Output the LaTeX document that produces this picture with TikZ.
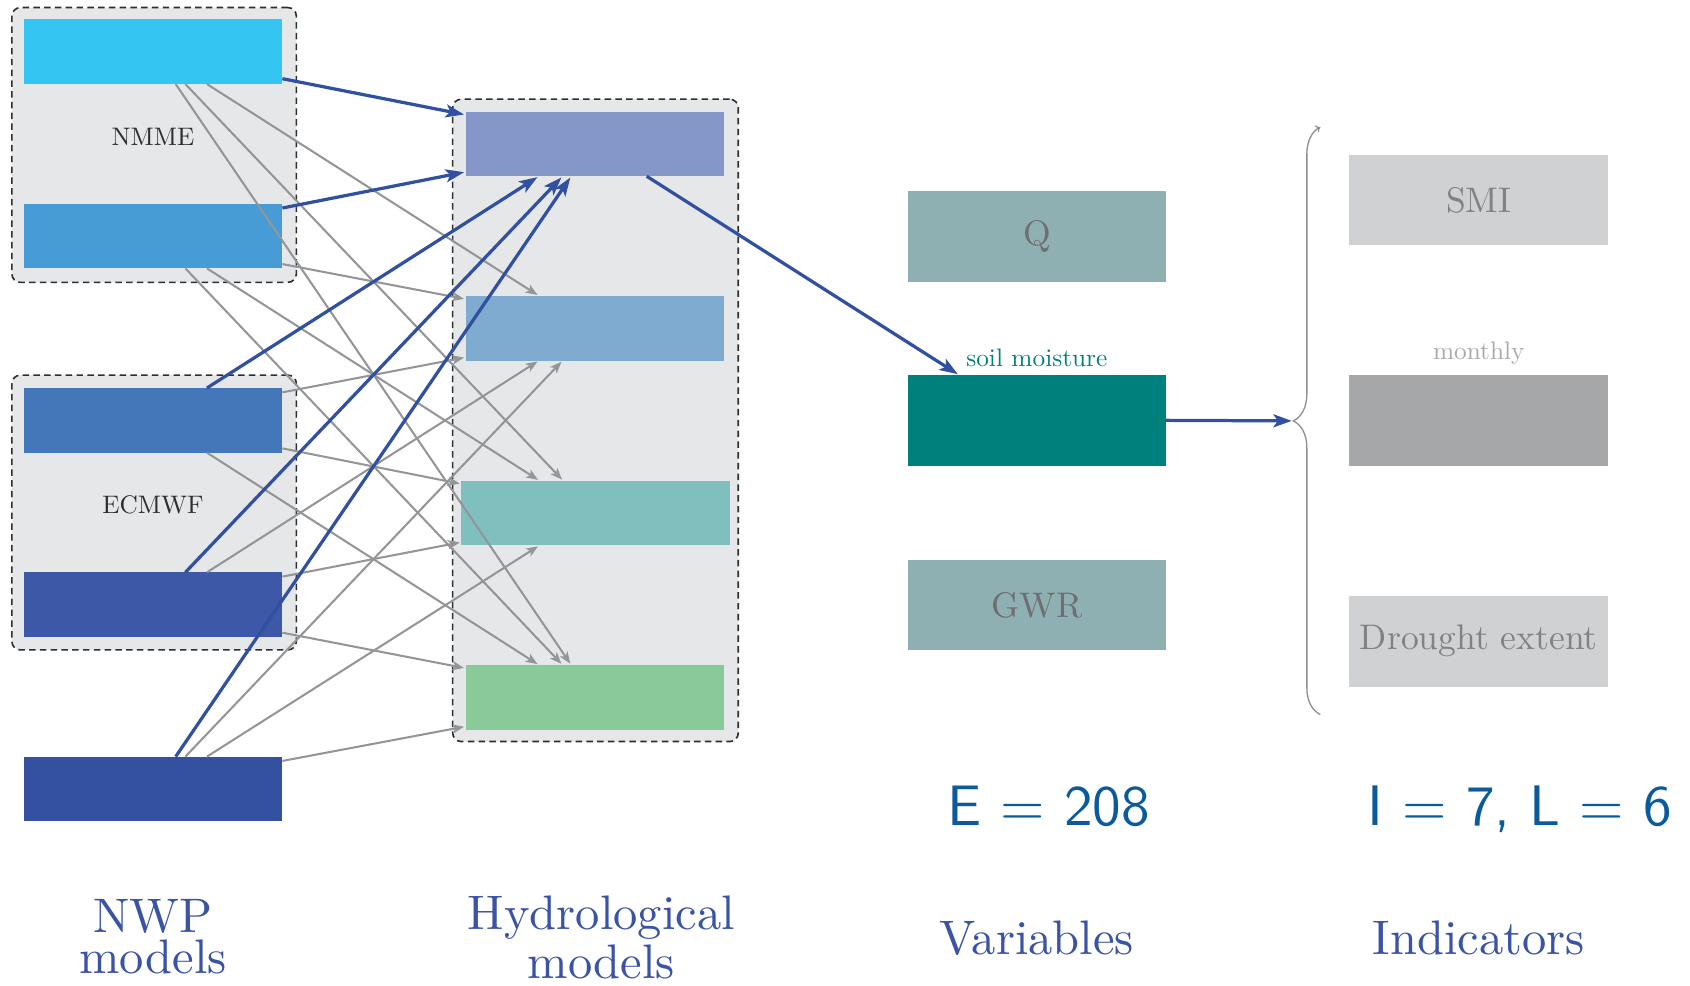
\documentclass[tikz,border=0pt]{standalone}
\usepackage{fontspec}
\setmainfont{lmroman10-regular.otf}
\setsansfont{lmsans10-regular.otf}
\usetikzlibrary{arrows.meta,decorations.pathreplacing}

% palette
\definecolor{nwpA}{HTML}{35C5F3}
\definecolor{nwpB}{HTML}{479CD6}
\definecolor{nwpC}{HTML}{4476BA}
\definecolor{nwpD}{HTML}{3C58A7}
\definecolor{nwpE}{HTML}{3350A1}
\definecolor{hydA}{HTML}{8596C9}
\definecolor{hydB}{HTML}{7FABD1}
\definecolor{hydC}{HTML}{7FBFBE}
\definecolor{hydD}{HTML}{89CA98}
\definecolor{varbox}{HTML}{8EB0B3}
\definecolor{smteal}{HTML}{00807D}
\definecolor{indbox}{HTML}{D0D1D3}
\definecolor{indsel}{HTML}{A6A7A9}
\definecolor{grpfill}{HTML}{E6E7E8}
\definecolor{grpline}{HTML}{2E2E2E}
\definecolor{flowblue}{HTML}{3150A0}
\definecolor{linkgray}{HTML}{939598}
\definecolor{bracegray}{HTML}{8C8D90}
\definecolor{boxtext}{HTML}{6D6F71}
\definecolor{indtext}{HTML}{808285}
\definecolor{softgray}{HTML}{A7A9AC}
\definecolor{titleblue}{HTML}{3A53A4}
\definecolor{countblue}{HTML}{0B5A9C}

\tikzset{
  box/.style={rectangle, minimum width=240pt, minimum height=60pt,
    inner sep=0pt, outer sep=0pt},
  tallbox/.style={box, minimum height=84pt, text=boxtext,
    font=\fontsize{33}{38}\selectfont},
  grp/.style={rectangle, draw=grpline, fill=grpfill, line width=1.5pt,
    dash pattern=on 6pt off 4pt, rounded corners=8pt, inner sep=0pt},
  grplabel/.style={text=grpline, font=\fontsize{23.5}{28}\selectfont},
  flow/.style={draw=flowblue, line width=3pt, shorten >=1.5pt,
    -{Stealth[length=17pt,width=12pt,inset=4pt]}},
  link/.style={draw=linkgray, line width=1.9pt, shorten >=1.5pt,
    -{Stealth[length=11pt,width=8.5pt,inset=3pt]}},
  coltitle/.style={text=titleblue, align=center, inner sep=0pt},
  count/.style={text=countblue, inner sep=0pt,
    font=\sffamily\fontsize{53}{60}\selectfont},
}

\begin{document}
\begin{tikzpicture}[x=1pt,y=-1pt]
\useasboundingbox (0,0) rectangle (1568,914);

% ensemble groups
\node[grp, minimum width=264pt, minimum height=255pt] (gnmme) at (143,134.5) {};
\node[grp, minimum width=264pt, minimum height=255pt] (gecm) at (143,475.5) {};
\node[grp, minimum width=265pt, minimum height=596pt] (ghyd) at (552.5,390) {};
\node[grplabel, anchor=base] (lnmme) at (142,135) {NMME};
\node[grplabel, anchor=base] (lecm) at (142,476) {ECMWF};

% NWP models
\node[box, fill=nwpA] (n1) at (142,48) {};
\node[box, fill=nwpB] (n2) at (142,219) {};
\node[box, fill=nwpC] (n3) at (142,390) {};
\node[box, fill=nwpD] (n4) at (142,561) {};
\node[box, fill=nwpE] (n5) at (142,732) {};

% hydrological models
\node[box, fill=hydA] (h1) at (552,133.5) {};
\node[box, fill=hydB] (h2) at (552,304.5) {};
\node[box, fill=hydC, minimum width=249pt] (h3) at (552.5,476) {};
\node[box, fill=hydD] (h4) at (552,647) {};

% variables
\node[tallbox, fill=varbox] (vq) at (962,219.5) {Q};
\node[tallbox, fill=smteal] (sm) at (962,390) {};
\node[tallbox, fill=varbox] (gwr) at (962,561.5) {GWR};
\node[grplabel, text=smteal, anchor=base] (lsm) at (962,340) {soil moisture};

% indicators
\node[tallbox, fill=indbox, text=indtext] (smi) at (1372,185.5) {SMI};
\node[tallbox, fill=indsel] (mon) at (1372,390) {};
\node[tallbox, fill=indbox, text=indtext] (dex) at (1372,595) {Drought extent};
\node[grplabel, text=softgray, anchor=base] (lmon) at (1372,334) {monthly};

% brace gathering the indicators
\draw[draw=bracegray, line width=1.2pt, decorate,
      decoration={brace, amplitude=25pt},
      -{To[length=4pt,width=7pt]}] (1225,663) -- (1225,118);
\coordinate (bt) at (1200,390.5);

% connections between NWP and hydrological models
\draw[link] ([xshift=50pt]n1.south) -- ([xshift=-52pt]h2.north);
\draw[link] ([xshift=30pt]n1.south) -- ([xshift=-30pt]h3.north);
\draw[link] ([xshift=21pt]n1.south) -- ([xshift=-22pt]h4.north);

\draw[link] ([yshift=-26pt]n2.east) -- ([yshift=27pt]h2.west);
\draw[link] ([xshift=50pt]n2.south) -- ([xshift=-52pt]h3.north);
\draw[link] ([xshift=30pt]n2.south) -- ([xshift=-30pt]h4.north);

\draw[link] ([yshift=26pt]n3.east) -- ([yshift=-27pt]h2.west);
\draw[link] ([yshift=-26pt]n3.east) -- ([yshift=27pt]h3.west);
\draw[link] ([xshift=50pt]n3.south) -- ([xshift=-52pt]h4.north);

\draw[link] ([xshift=50pt]n4.north) -- ([xshift=-52pt]h2.south);
\draw[link] ([yshift=26pt]n4.east) -- ([yshift=-27pt]h3.west);
\draw[link] ([yshift=-26pt]n4.east) -- ([yshift=27pt]h4.west);

\draw[link] ([xshift=30pt]n5.north) -- ([xshift=-30pt]h2.south);
\draw[link] ([xshift=50pt]n5.north) -- ([xshift=-52pt]h3.south);
\draw[link] ([yshift=26pt]n5.east) -- ([yshift=-27pt]h4.west);

% the selected chain
\draw[flow] ([yshift=-25pt]n1.east) -- ([yshift=27pt]h1.west);
\draw[flow] ([yshift=26pt]n2.east) -- ([yshift=-26pt]h1.west);
\draw[flow] ([xshift=50pt]n3.north) -- ([xshift=-52pt]h1.south);
\draw[flow] ([xshift=30pt]n4.north) -- ([xshift=-30pt]h1.south);
\draw[flow] ([xshift=21pt]n5.north) -- ([xshift=-22pt]h1.south);
\draw[flow] ([xshift=48pt]h1.south) -- ([xshift=-72pt]sm.north);
\draw[flow] (sm.east) -- (bt);

% counts
\node[count, anchor=base] (ce) at (973,766) {E = 208};
\node[count, anchor=base] (ci) at (1410,766) {I = 7, L = 6};

% column titles
\node[coltitle, anchor=north, font=\fontsize{45}{38}\selectfont] (tnwp) at (142,834) {NWP\\models};
\node[coltitle, anchor=north, font=\fontsize{45}{45}\selectfont] (thyd) at (558,831) {Hydrological\\models};
\node[coltitle, anchor=base, font=\fontsize{45}{45}\selectfont] (tvar) at (962,886) {Variables};
\node[coltitle, anchor=base, font=\fontsize{45}{45}\selectfont] (tind) at (1372,886) {Indicators};
\end{tikzpicture}
\end{document}
